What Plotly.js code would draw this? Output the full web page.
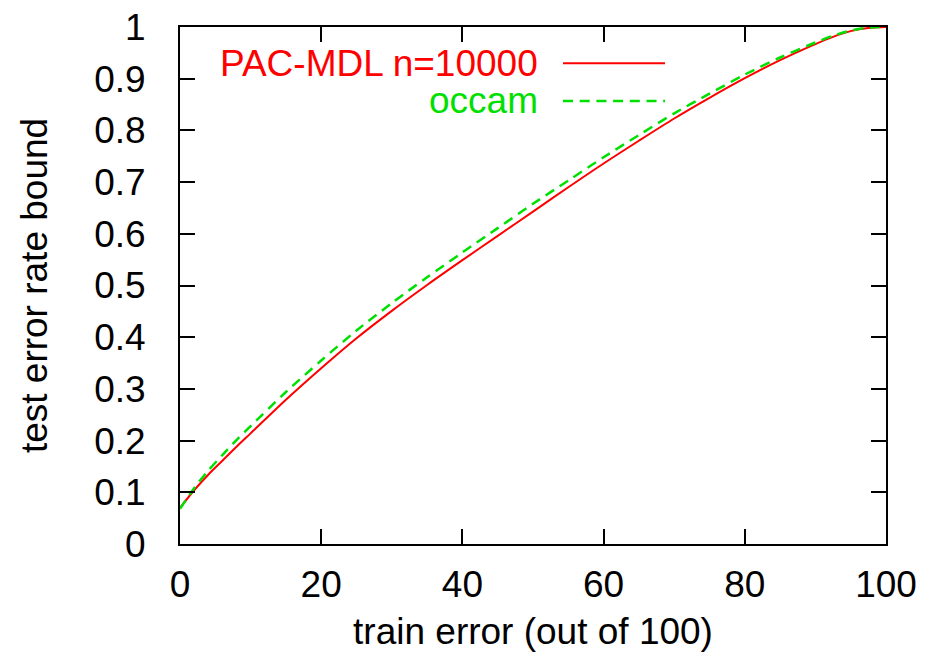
<!DOCTYPE html>
<html>
<head>
<meta charset="utf-8">
<script src="https://cdn.plot.ly/plotly-3.0.1.min.js"></script>
<style>html,body{margin:0;padding:0;background:#fff;}#chart{width:925px;height:653px;}</style>
</head>
<body>
<div id="chart"></div>
<script>
// train error (out of 100)
const trainError = [0, 2, 4, 6, 8, 10, 15, 20, 25, 30, 35, 40, 45, 50, 55, 60, 65, 70, 75, 80, 85, 90, 92.5, 95, 97.5, 100];
// PAC-MDL n=10000 bound
const pacMdl = [0.070, 0.104, 0.134, 0.161, 0.188, 0.214, 0.279, 0.340, 0.398, 0.451, 0.501, 0.549, 0.596, 0.643, 0.690, 0.736, 0.780, 0.823, 0.863, 0.901, 0.936, 0.967, 0.981, 0.992, 0.998, 1.000];
// occam bound
const occam = [0.068, 0.108, 0.142, 0.172, 0.201, 0.228, 0.294, 0.355, 0.413, 0.466, 0.516, 0.564, 0.611, 0.658, 0.703, 0.748, 0.791, 0.833, 0.871, 0.908, 0.941, 0.970, 0.983, 0.993, 0.999, 1.000];
const seriesNames = ["PAC-MDL n=10000", "occam"];
const xTitle = "train error (out of 100)";
const yTitle = "test error rate bound";

const RED = "#ff0000", GREEN = "#00e000";
const FONT = "Liberation Sans, Arial, sans-serif";
const FS = 37;

const traces = [
  {x: trainError, y: pacMdl, name: seriesNames[0], mode: "lines", line: {color: RED, width: 2, shape: "spline", smoothing: 0.8}},
  {x: trainError, y: occam, name: seriesNames[1], mode: "lines", line: {color: GREEN, width: 2.5, dash: "10px,6.7px", shape: "spline", smoothing: 0.8}}
];

const axisCommon = {
  showline: true, linecolor: "#000", linewidth: 2, mirror: "ticks",
  ticks: "inside", ticklen: 15, tickwidth: 2, tickcolor: "#000",
  showgrid: false, zeroline: false,
  tickfont: {family: FONT, size: FS, color: "#000"}
};

const layout = {
  width: 925, height: 653,
  margin: {l: 180, r: 39, t: 27, b: 109},
  paper_bgcolor: "#fff", plot_bgcolor: "#fff",
  showlegend: false,
  font: {family: FONT, size: FS, color: "#000"},
  xaxis: Object.assign({}, axisCommon, {range: [0, 100], dtick: 20, tick0: 0,
    ticklabelstandoff: 7,
    title: {text: xTitle, font: {family: FONT, size: FS, color: "#000"}, standoff: 14}}),
  yaxis: Object.assign({}, axisCommon, {range: [0, 1], dtick: 0.1, tick0: 0,
    ticklabelstandoff: 25,
    title: {text: yTitle, font: {family: FONT, size: FS, color: "#000"}, standoff: 35}}),
  annotations: [
    {xref: "paper", yref: "paper", x: 0.51, y: 0.930, xanchor: "right", yanchor: "middle",
     text: seriesNames[0], showarrow: false, font: {family: FONT, size: FS, color: RED}},
    {xref: "paper", yref: "paper", x: 0.51, y: 0.857, xanchor: "right", yanchor: "middle",
     text: seriesNames[1], showarrow: false, font: {family: FONT, size: FS, color: GREEN}}
  ],
  shapes: [
    {type: "line", xref: "paper", yref: "paper", x0: 0.5425, x1: 0.687, y0: 0.930, y1: 0.930, line: {color: RED, width: 2}},
    {type: "line", xref: "paper", yref: "paper", x0: 0.5425, x1: 0.687, y0: 0.857, y1: 0.857, line: {color: GREEN, width: 2.5, dash: "10px,6.7px"}}
  ]
};

Plotly.newPlot("chart", traces, layout, {displayModeBar: false, staticPlot: true});
</script>
</body>
</html>
